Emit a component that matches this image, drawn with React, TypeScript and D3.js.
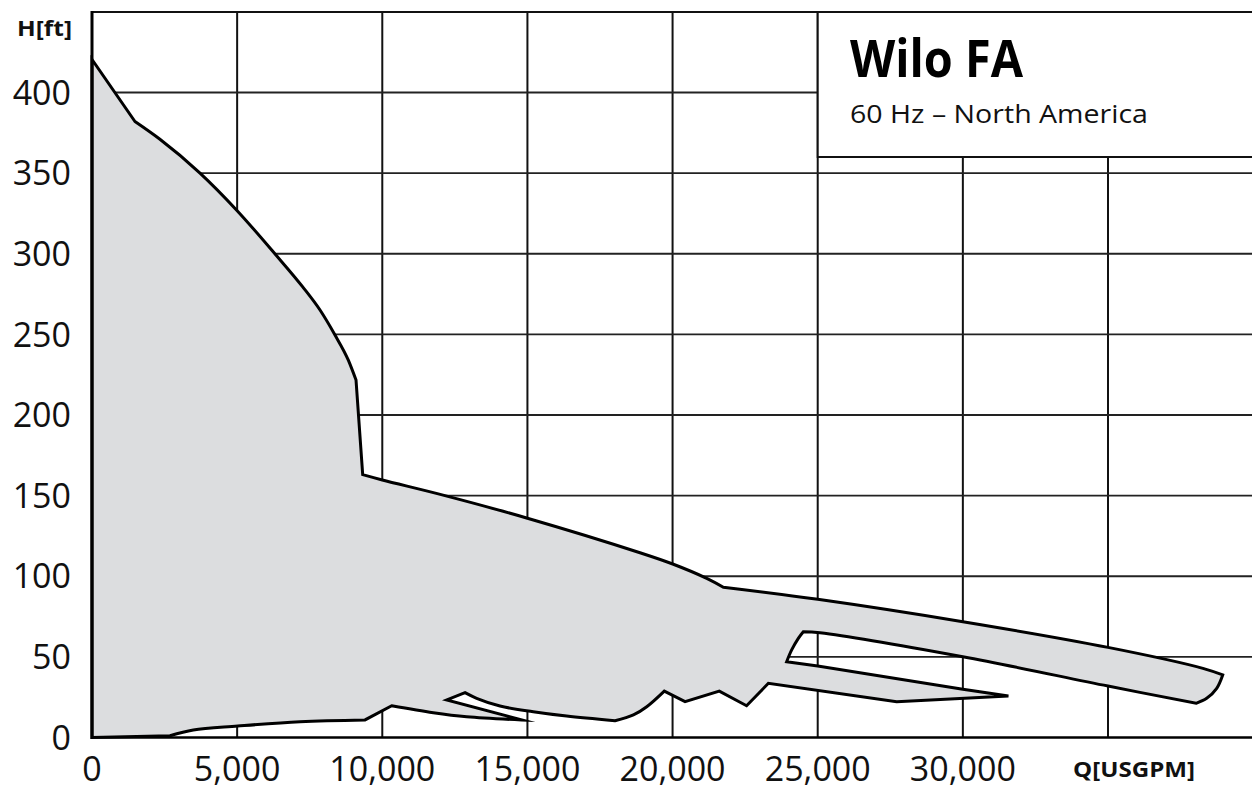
import React from "react";
import * as d3 from "d3";

const W = 1252;
const H = 790;

// Tick values
const xTicks = [0, 5000, 10000, 15000, 20000, 25000, 30000];
const xGrid = [5000, 10000, 15000, 20000, 25000, 30000, 35000];
const yTicks = [0, 50, 100, 150, 200, 250, 300, 350, 400];

// Outline of the performance envelope (Q in USGPM, H in ft)
const outlineQ = [
  0, 0, 1480, 2340, 3720, 4985, 6300, 7252, 7855, 8371, 8830, 9095,
  9325, 10000, 12160, 15000, 18878, 20005, 21176, 21748,
  25000, 30000, 35000, 38270, 38952, 38745, 38400, 38033,
  35000, 30000, 25080, 24505, 24332, 24103, 23930, 25000, 30000, 31570,
  27720, 23300, 22550, 21610, 20430, 19715, 19110, 18650, 18017,
  16350, 15200, 14055, 13250, 12850, 12220, 14800, 12906, 11757, 10324,
  9405, 7165, 5020, 3490, 2687, 0,
];
const outlineH = [
  0, 420.5, 382, 371, 350, 327, 300, 279.6, 265.1, 249.6, 234, 221.7,
  163, 159.7, 150, 136, 114.6, 107.6, 98.7, 93.2,
  85.7, 71.8, 55.9, 42.9, 38.8, 30.5, 24.3, 21.2,
  31.9, 50.1, 65, 65.6, 61.5, 54.3, 47, 44.3, 29.9, 25.7,
  22.2, 33.6, 19.7, 28.8, 22.2, 28.8, 19.1, 14, 10.4,
  13.3, 16, 19.5, 24.3, 27.8, 23.3, 10.9, 12.9, 15.4, 19.7,
  10.9, 9.8, 7.1, 4.7, 1.1, 0,
];

// Pieces of the outline: [first index, last index, curve kind]
const pieces: [number, number, string][] = [
  [0, 2, "line"],
  [2, 11, "mono"],
  [11, 12, "line"],
  [12, 19, "smooth"],
  [19, 24, "smooth"],
  [24, 27, "smooth"],
  [27, 31, "smooth"],
  [31, 34, "smooth"],
  [34, 43, "line"],
  [43, 46, "smooth"],
  [46, 51, "smooth"],
  [51, 53, "line"],
  [53, 56, "smooth"],
  [56, 57, "line"],
  [57, 61, "smooth"],
  [61, 62, "line"],
];

const FONT = "'Open Sans', 'DejaVu Sans', sans-serif";

export default function App() {
  const x = d3.scaleLinear().domain([0, 35000]).range([92, 1108]);
  const y = d3.scaleLinear().domain([0, 400]).range([737.5, 92.5]);
  const top = 12;
  const right = W;

  const pts: [number, number][] = outlineQ.map((q, i) => [q, outlineH[i]]);
  const mk = (c: d3.CurveFactory) =>
    d3
      .line<[number, number]>()
      .x((d) => x(d[0]))
      .y((d) => y(d[1]))
      .curve(c);
  const gens: Record<string, d3.Line<[number, number]>> = {
    line: mk(d3.curveLinear),
    smooth: mk(d3.curveCatmullRom.alpha(0.5)),
    mono: mk(d3.curveMonotoneX),
  };
  const path =
    pieces
      .map(([a, b, k], i) => {
        const seg = pts.slice(a, b + 1);
        const d = gens[k](seg) || "";
        return i === 0 ? d : "L" + d.slice(1);
      })
      .join("") + "Z";

  const fmt = d3.format(",");

  return (
    <svg
      width={W}
      height={H}
      style={{ position: "absolute", left: 0, top: 0, background: "#fff" }}
    >
      {/* grid */}
      {xGrid.map((q) => (
        <line key={"vx" + q} x1={x(q)} x2={x(q)} y1={top} y2={y(0)} stroke="#111" strokeWidth={2} />
      ))}
      {yTicks.slice(1).map((h) => (
        <line key={"hy" + h} x1={x(0)} x2={right} y1={y(h)} y2={y(h)} stroke="#222" strokeWidth={1.8} />
      ))}
      <line x1={x(0)} x2={right} y1={top} y2={top} stroke="#111" strokeWidth={2.2} />

      {/* info box */}
      <rect x={x(25000)} y={top} width={right - x(25000) + 2} height={157 - top} fill="#fff" stroke="#111" strokeWidth={2} />
      <text x={850} y={77} fontFamily={FONT} fontWeight={700} fontSize={52} fill="#000" textLength={173} lengthAdjust="spacingAndGlyphs">
        Wilo FA
      </text>
      <text x={850} y={123} fontFamily={FONT} fontSize={25} fill="#111" textLength={298} lengthAdjust="spacingAndGlyphs">
        60 Hz – North America
      </text>

      {/* envelope */}
      <path d={path} fill="#dcdddf" stroke="#000" strokeWidth={3} strokeLinejoin="miter" strokeMiterlimit={10} />

      {/* axes */}
      <line x1={x(0)} x2={x(0)} y1={top - 1} y2={y(0) + 1.5} stroke="#000" strokeWidth={3} />
      <line x1={x(0)} x2={right} y1={y(0)} y2={y(0)} stroke="#000" strokeWidth={2.5} />

      {/* y ticks */}
      {yTicks.map((h) => (
        <text
          key={"yt" + h}
          x={71}
          y={y(h)}
          dy="0.36em"
          textAnchor="end"
          fontFamily={FONT}
          fontSize={34}
          fill="#111"
        >
          {h}
        </text>
      ))}
      {/* x ticks */}
      {xTicks.map((q) => (
        <text
          key={"xt" + q}
          x={x(q)}
          y={781}
          textAnchor="middle"
          fontFamily={FONT}
          fontSize={34}
          fill="#111"
        >
          {fmt(q)}
        </text>
      ))}

      <text x={17} y={36} fontFamily={FONT} fontWeight={700} fontSize={21} fill="#111" textLength={55} lengthAdjust="spacingAndGlyphs">
        H[ft]
      </text>
      <text x={1073} y={777} fontFamily={FONT} fontWeight={700} fontSize={22} fill="#111" textLength={122} lengthAdjust="spacingAndGlyphs">
        Q[USGPM]
      </text>
    </svg>
  );
}
